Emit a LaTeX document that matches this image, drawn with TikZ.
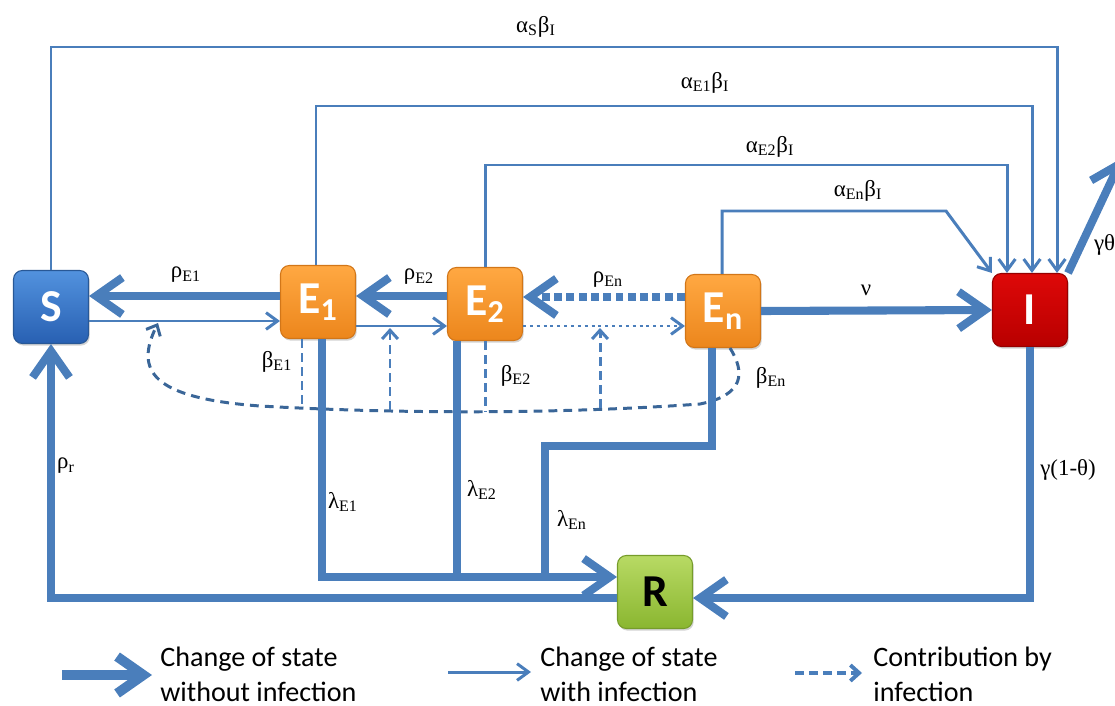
\documentclass[tikz,border=0pt]{standalone}
\usepackage{fontspec}
\setmainfont{Liberation Serif}
\newfontfamily\calib{Carlito}
\usetikzlibrary{arrows.meta, shadows}
\definecolor{flow}{HTML}{4A7EBB}
\definecolor{loopblue}{HTML}{3A6698}
\tikzset{
		comp/.style={rounded corners=5pt, minimum width=1.5cm, minimum height=1.46cm, inner sep=0pt,
			font=\calib\bfseries\fontsize{26}{26}\selectfont, text=white, line width=.6pt,
			drop shadow={opacity=.35, shadow xshift=.7pt, shadow yshift=-1.2pt}},
		susc/.style={comp, top color={rgb,255:red,82;green,146;blue,222}, bottom color={rgb,255:red,40;green,96;blue,178}, draw={rgb,255:red,40;green,88;blue,150}},
		expo/.style={comp, top color={rgb,255:red,255;green,168;blue,66}, bottom color={rgb,255:red,236;green,134;blue,28}, draw={rgb,255:red,210;green,118;blue,24}},
		infe/.style={comp, top color={rgb,255:red,222;green,8;blue,8}, bottom color={rgb,255:red,184;green,0;blue,0}, draw={rgb,255:red,150;green,0;blue,0}},
		reco/.style={comp, text=black, top color={rgb,255:red,184;green,218;blue,100}, bottom color={rgb,255:red,138;green,182;blue,48}, draw={rgb,255:red,118;green,156;blue,42}},
		noinf/.style={draw=flow, line width=4.6pt, -{Straight Barb[length=15pt, width=21pt]}},
		withinf/.style={draw=flow, line width=1.7pt, -{Straight Barb[length=6.5pt, width=9.5pt]}},
		contrib/.style={draw=flow, line width=1.7pt, dash pattern=on 5pt off 3pt},
		rate/.style={font=\fontsize{13}{15}\selectfont, inner sep=1pt},
		legend/.style={font=\calib\fontsize{16}{19.8}\selectfont, align=left, anchor=west, inner sep=0pt}
	}
\begin{document}
\begin{tikzpicture}[x=0.02cm, y=-0.02cm]
				\useasboundingbox (0,0) rectangle (1115,706);

				\node[susc] (S)  at (51,307)   {S};
				\node[expo] (E1) at (318,302)  {E\textsubscript{1}};
				\node[expo] (E2) at (485,304)  {E\textsubscript{2}};
				\node[expo] (En) at (723,311)  {E\textsubscript{n}};
				\node[infe] (I)  at (1030,310) {I};
				\node[reco] (R)  at (655,592)  {R};

				\coordinate (gt) at (1122,158);

				\draw[withinf] (S.north) |- (1057,47) -- (1057,0 |- I.north);
				\draw[withinf] (316,0 |- E1.north) |- (1032,106) -- (1032,0 |- I.north);
				\draw[withinf] (E2.north) |- (1007,165) -- (1007,0 |- I.north);
				\draw[withinf] (722,0 |- En.north) |- (946,211) -- (I.north west);
				\draw[noinf] (I.north east) -- (gt);
				\draw[noinf] (En.east) -- (I.west);

				\draw[noinf]   (E1.west |- 0,296) -- (S.east |- 0,296);
				\draw[withinf] (S.east |- 0,321)  -- (E1.west |- 0,321);
				\draw[noinf]   (E2.west |- 0,296) -- (E1.east |- 0,296);
				\draw[withinf] (E1.east |- 0,326) -- (E2.west |- 0,326);
				\draw[noinf, dash pattern=on 4.5pt off 2.5pt] (En.west |- 0,297) -- (E2.east |- 0,297);
				\draw[withinf, dash pattern=on 1.7pt off 2.2pt] (E2.east |- 0,326) -- (En.west |- 0,326);

				\coordinate (hitS)  at (158,323);
				\coordinate (b1)    at (302,405);
				\coordinate (up1a)  at (390,410);
				\coordinate (up1b)  at (390,328);
				\coordinate (b2)    at (485,412);
				\coordinate (up2a)  at (600,408);
				\coordinate (up2b)  at (600,328);

				\draw[contrib, draw=loopblue, dash pattern=on 5pt off 3.5pt, -{Straight Barb[length=5pt, width=9pt]}]
					(730,0 |- En.south) .. controls (745,372) and (745,395) .. (700,404)
					.. controls (560,414) and (400,414) .. (260,406)
					.. controls (150,398) and (135,370) .. (hitS);
				\draw[contrib] (302,0 |- E1.south) -- (b1);
				\draw[contrib] (E2.south) -- (b2);
				\draw[contrib, -{Straight Barb[length=5pt, width=9pt]}] (up1a) -- (up1b);
				\draw[contrib, -{Straight Barb[length=5pt, width=9pt]}] (up2a) -- (up2b);

				\draw[noinf]    (322,0 |- E1.south) |- (R.west |- 0,577);
				\draw[noinf, -] (457,0 |- E2.south) -- (457,577);
				\draw[noinf, -] (712,0 |- En.south) |- (545,446) -- (545,577);
				\draw[noinf]    (R.west |- 0,598) -| (S.south);
				\draw[noinf]    (I.south) |- (R.east |- 0,598);

				\node[rate] (aS)  at (536,27)  {α\textsubscript{S}β\textsubscript{I}};
				\node[rate] (aE1) at (705,83)  {α\textsubscript{E1}β\textsubscript{I}};
				\node[rate] (aE2) at (770,147) {α\textsubscript{E2}β\textsubscript{I}};
				\node[rate] (aEn) at (858,191) {α\textsubscript{En}β\textsubscript{I}};
				\node[rate, anchor=west] (gth) at (1092,245) {γθ};
				\node[rate] (nu)  at (866,290) {ν};
				\node[rate] (rE1) at (186,275) {ρ\textsubscript{E1}};
				\node[rate] (rE2) at (419,277) {ρ\textsubscript{E2}};
				\node[rate] (rEn) at (608,280) {ρ\textsubscript{En}};
				\node[rate] (bE1) at (277,362) {β\textsubscript{E1}};
				\node[rate] (bE2) at (516,376) {β\textsubscript{E2}};
				\node[rate] (bEn) at (771,378) {β\textsubscript{En}};
				\node[rate] (lE1) at (343,502) {λ\textsubscript{E1}};
				\node[rate] (lE2) at (482,490) {λ\textsubscript{E2}};
				\node[rate] (lEn) at (572,520) {λ\textsubscript{En}};
				\node[rate] (rr)  at (66,466)  {ρ\textsubscript{r}};
				\node[rate] (g1t) at (1068,470) {γ(1-θ)};

				\coordinate (k1a) at (62,675);
				\coordinate (k1b) at (152,675);
				\coordinate (k2a) at (448,672);
				\coordinate (k2b) at (531,672);
				\coordinate (k3a) at (795,673);
				\coordinate (k3b) at (862,673);
				\draw[noinf, line width=5.6pt] (k1a) -- (k1b);
				\draw[withinf] (k2a) -- (k2b);
				\draw[contrib, line width=2.2pt, -{Straight Barb[length=5pt, width=9pt]}] (k3a) -- (k3b);
				\node[legend] (t1) at (160,674) {Change of state\\without infection};
				\node[legend] (t2) at (540,674) {Change of state\\with infection};
				\node[legend] (t3) at (873,674) {Contribution by\\infection};
			\end{tikzpicture}
\end{document}
